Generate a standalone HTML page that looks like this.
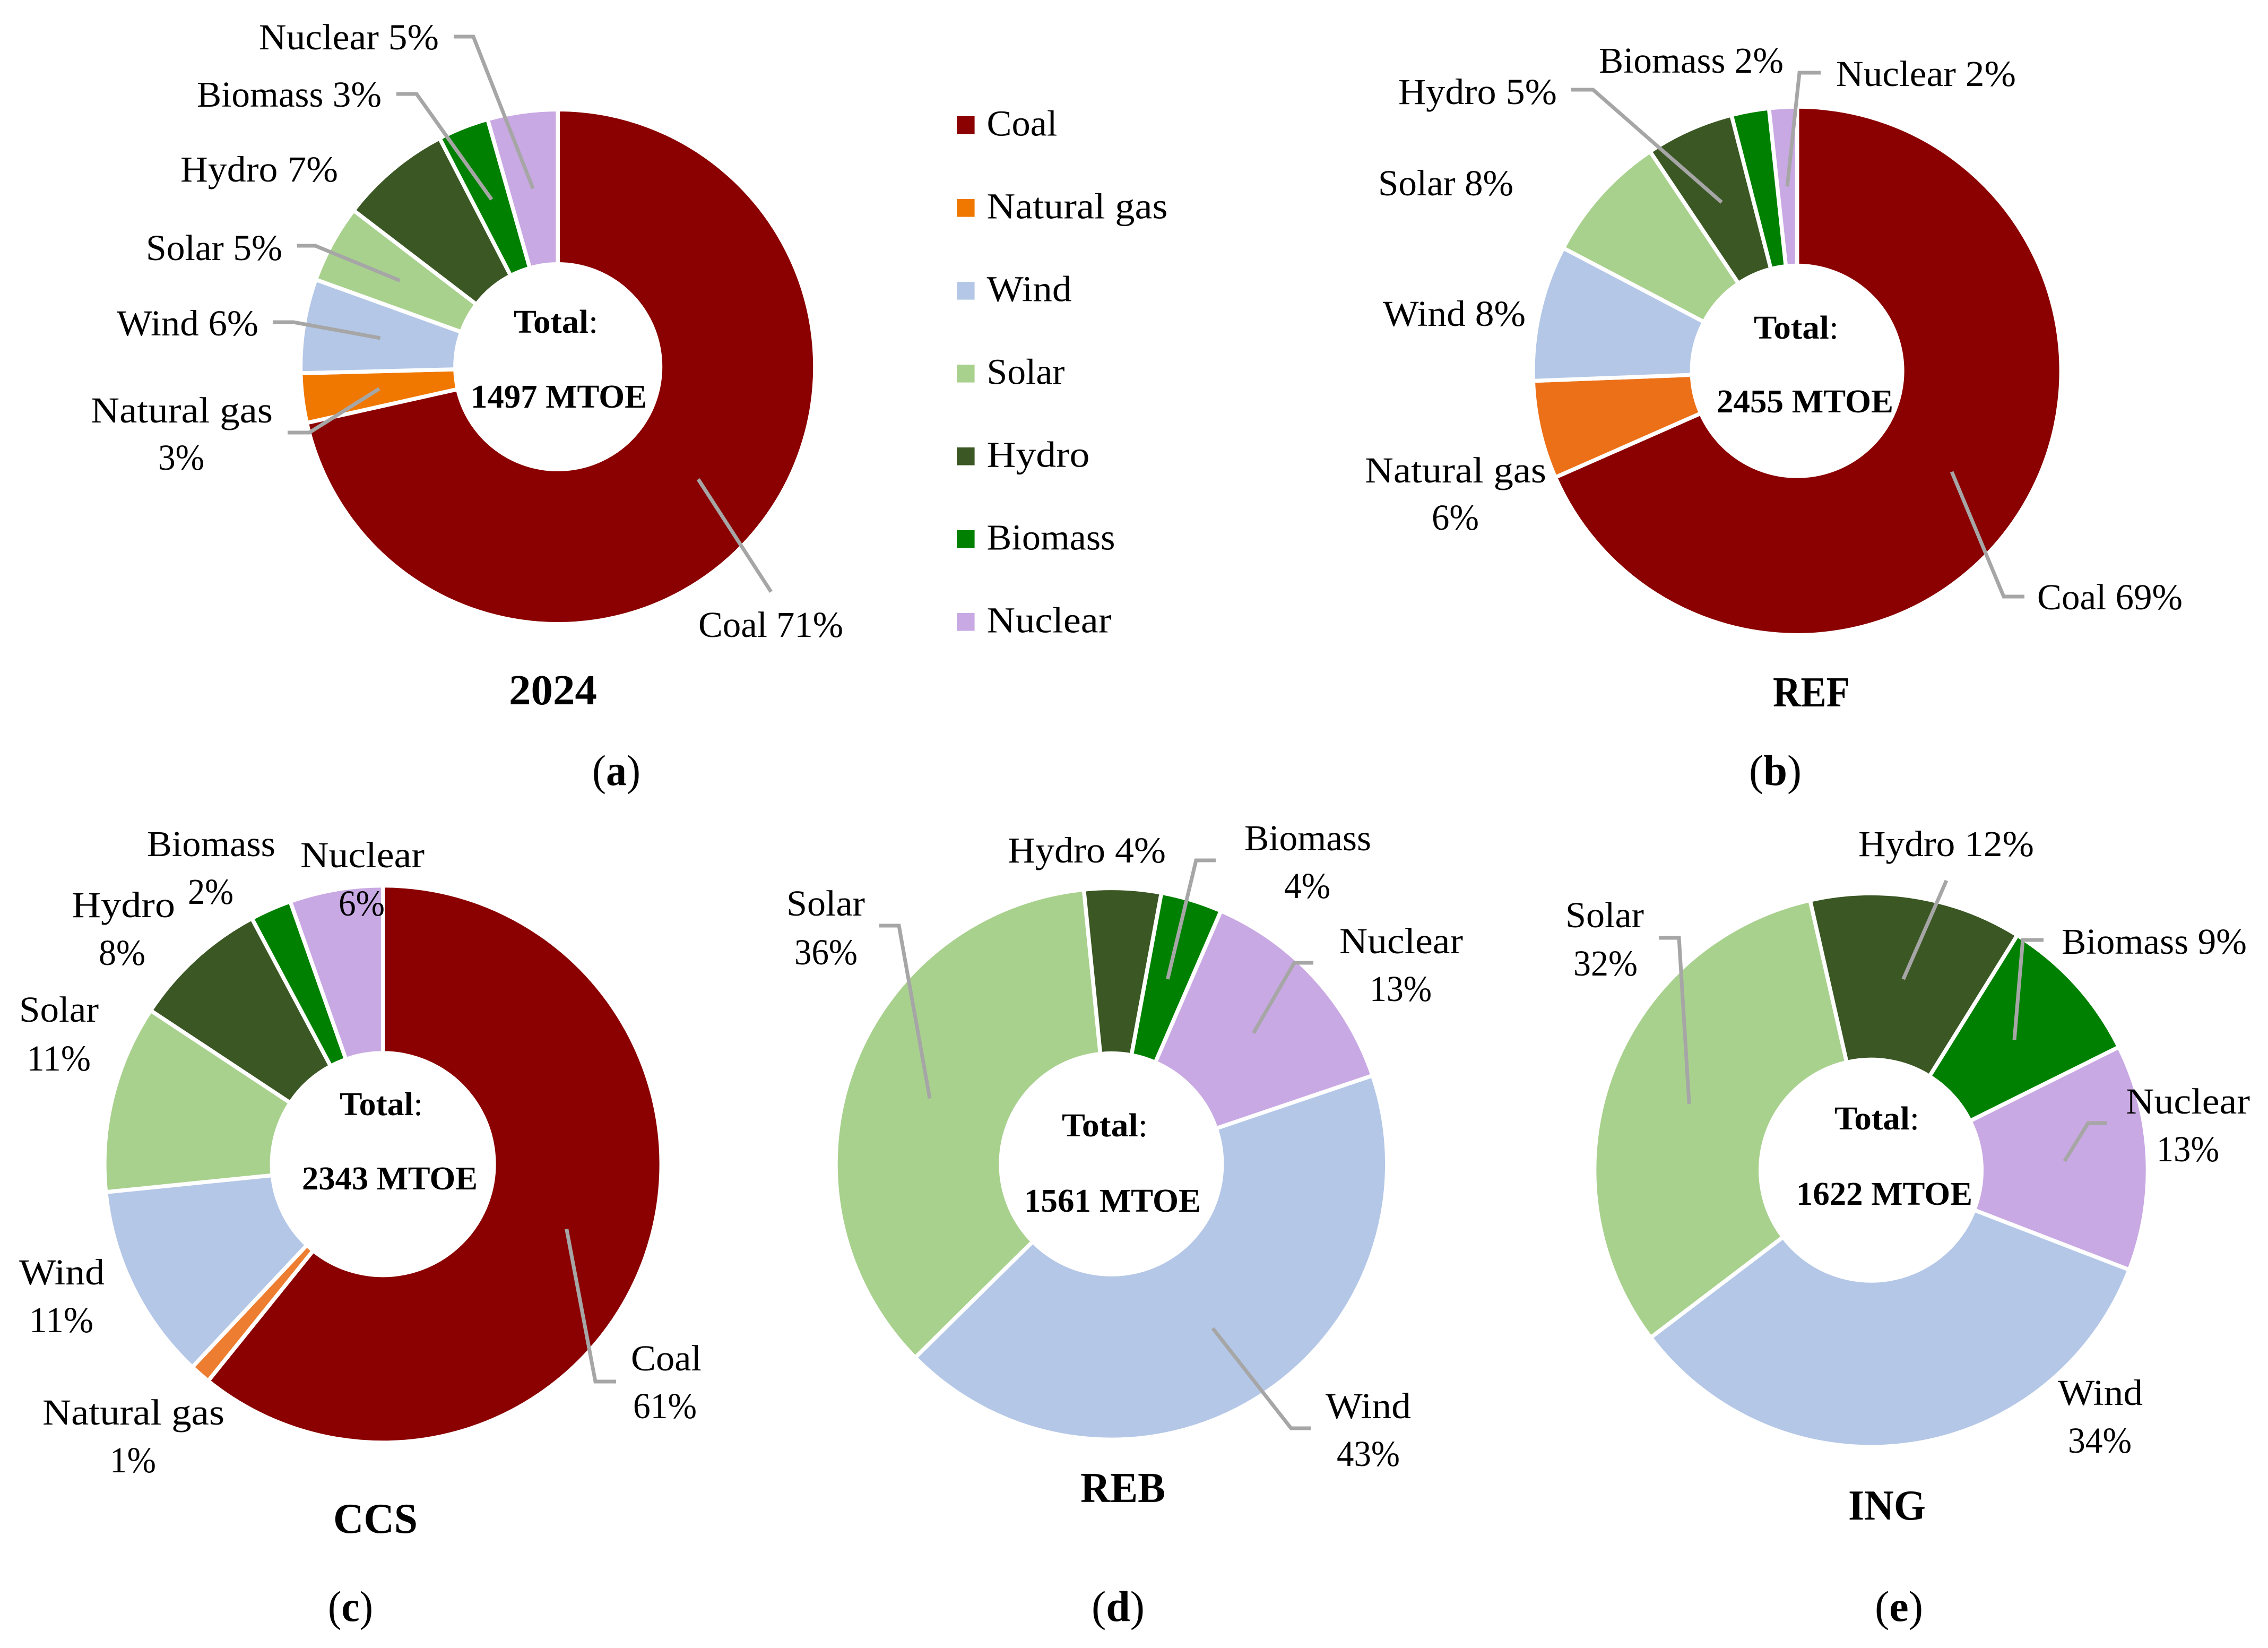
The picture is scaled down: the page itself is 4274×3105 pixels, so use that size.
<!DOCTYPE html>
<html lang="en">
<head>
<meta charset="utf-8">
<title>Energy mix by scenario</title>
<style>
html,body{margin:0;padding:0;background:#fff;}
svg{display:block;}
text{font-family:"Liberation Serif",serif;fill:#000;}
</style>
</head>
<body>
<svg id="figure" xmlns="http://www.w3.org/2000/svg" width="4274" height="3105" viewBox="0 0 4274 3105"></svg>
<script>
// ---------- data ----------
const categories = ["Coal", "Natural gas", "Wind", "Solar", "Hydro", "Biomass", "Nuclear"];
const values2024 = [71.5, 3.1, 5.9, 4.9, 7.0, 3.2, 4.4];
const valuesREF  = [68.4, 6.0, 8.3, 7.9, 5.4, 2.3, 1.7];
const valuesCCS  = [60.8, 1.2, 11.4, 10.9, 7.9, 2.4, 5.4];
const valuesREB  = [0, 0, 42.8, 35.8, 4.5, 3.6, 13.3];
const valuesING  = [0, 0, 33.8, 31.8, 12.4, 8.8, 13.2];
const printed2024 = [71, 3, 6, 5, 7, 3, 5];
const printedREF  = [69, 6, 8, 8, 5, 2, 2];
const printedCCS  = [61, 1, 11, 11, 8, 2, 6];
const printedREB  = [0, 0, 43, 36, 4, 4, 13];
const printedING  = [0, 0, 34, 32, 12, 9, 13];
const scenarioTitles = ["2024", "REF", "CCS", "REB", "ING"];
const scenarioTotals = [1497, 2455, 2343, 1561, 1622];
const panelLetters = ["a", "b", "c", "d", "e"];

// ---------- styling ----------
const sliceColors = ["#8B0000", "#F07800", "#B4C7E7", "#A9D18E", "#3B5724", "#008000", "#C9A9E3"];
const leaderColor = "#A6A6A6";

// ---------- layout of each panel (geometry, labels placed by hand as in the figure) ----------
// label entries: one box => "Name NN%" on a line; two boxes => name, then percent. Box = [left, right, baseline]
// leader entries: [outer end, elbow] — the inner end is computed from the slice's mid-angle
const panels = [
  { values: values2024, printed: printed2024, cx: 1051.2, cy: 691, R: 481, r: 197, start: 0,
    gas: "#F07800",
    labels: {
      "Coal": [[1316, 1589, 1200]],
      "Natural gas": [[171, 514, 796], [298, 385, 885]],
      "Wind": [[220, 487, 632]],
      "Solar": [[275, 532, 490]],
      "Hydro": [[340, 637, 342]],
      "Biomass": [[371, 719, 201]],
      "Nuclear": [[488, 827, 93]]
    },
    leaders: {
      "Coal": [[1453, 1115], [1453, 1115]],
      "Natural gas": [[542, 815], [583, 815]],
      "Wind": [[514, 607], [553, 607]],
      "Solar": [[560, 463], [594, 463]],
      "Biomass": [[747, 177], [785, 177]],
      "Nuclear": [[855, 69], [892, 69]]
    },
    total: [[968, 1127, 627], [887, 1219, 768]],
    title: [959, 1125, 1327],
    caption: [1116, 1207, 1479] },
  { values: valuesREF, printed: printedREF, cx: 3386.6, cy: 698.8, R: 494, r: 202, start: 0,
    gas: "#EC7018",
    labels: {
      "Coal": [[3839, 4113, 1148]],
      "Natural gas": [[2572, 2914, 909], [2698, 2787, 998]],
      "Wind": [[2606, 2875, 614]],
      "Solar": [[2597, 2852, 368]],
      "Hydro": [[2635, 2934, 196]],
      "Biomass": [[3013, 3361, 137]],
      "Nuclear": [[3460, 3799, 162]]
    },
    leaders: {
      "Coal": [[3815, 1124], [3776, 1124]],
      "Hydro": [[2961, 169], [3002, 169]],
      "Nuclear": [[3431, 137], [3391, 137]]
    },
    total: [[3305, 3465, 638], [3235, 3568, 777]],
    title: [3341, 3486, 1331],
    caption: [3296, 3395, 1479] },
  { values: valuesCCS, printed: printedCCS, cx: 721.6, cy: 2193.3, R: 521, r: 213, start: 0,
    gas: "#ED7D31",
    labels: {
      "Coal": [[1189, 1322, 2582], [1193, 1313, 2672]],
      "Natural gas": [[80, 423, 2684], [207, 294, 2774]],
      "Wind": [[36, 197, 2420], [55, 176, 2510]],
      "Solar": [[36, 186, 1925], [50, 171, 2017]],
      "Hydro": [[135, 330, 1728], [186, 274, 1818]],
      "Biomass": [[277, 519, 1613], [354, 440, 1703]],
      "Nuclear": [[566, 800, 1634], [638, 725, 1725]]
    },
    leaders: {
      "Coal": [[1161, 2603], [1122, 2603]]
    },
    total: [[640, 797, 2101], [569, 900, 2241]],
    title: [628, 787, 2888],
    caption: [618, 703, 3054] },
  { values: valuesREB, printed: printedREB, cx: 2094.4, cy: 2192.9, R: 515.7, r: 212, start: 71.3,
    gas: "#ED7D31",
    labels: {
      "Wind": [[2498, 2659, 2672], [2519, 2638, 2762]],
      "Solar": [[1482, 1630, 1725], [1497, 1616, 1817]],
      "Hydro": [[1899, 2197, 1625]],
      "Biomass": [[2345, 2584, 1602], [2420, 2507, 1692]],
      "Nuclear": [[2524, 2757, 1796], [2581, 2698, 1886]]
    },
    leaders: {
      "Wind": [[2470, 2691], [2433, 2691]],
      "Solar": [[1657, 1744], [1694, 1744]],
      "Biomass": [[2291, 1621], [2254, 1621]],
      "Nuclear": [[2475, 1814], [2439, 1814]]
    },
    total: [[2001, 2163, 2141], [1930, 2263, 2283]],
    title: [2036, 2196, 2830],
    caption: [2057, 2157, 3054] },
  { values: valuesING, printed: printedING, cx: 3526, cy: 2204.7, R: 517.7, r: 212, start: 111.1,
    gas: "#ED7D31",
    labels: {
      "Wind": [[3878, 4038, 2647], [3897, 4017, 2737]],
      "Solar": [[2950, 3098, 1747], [2965, 3086, 1838]],
      "Hydro": [[3502, 3833, 1613]],
      "Biomass": [[3885, 4234, 1797]],
      "Nuclear": [[4006, 4240, 2098], [4064, 4182, 2188]]
    },
    leaders: {
      "Solar": [[3126, 1767], [3164, 1767]],
      "Hydro": [[3668, 1659], [3668, 1659]],
      "Biomass": [[3851, 1771], [3812, 1771]],
      "Nuclear": [[3971, 2116], [3935, 2116]]
    },
    total: [[3457, 3617, 2128], [3385, 3717, 2270]],
    title: [3483, 3629, 2863],
    caption: [3533, 3624, 3054] }
];

// legend layout: text width for each category, following the category order
const legendTextWidths = [133, 341, 160, 147, 194, 242, 235];

const SVG_NS = "http://www.w3.org/2000/svg";
const figure = document.getElementById("figure");
const GAP = 7.5;        // white separator width between slices
const LEADER_W = 7;

function slug(s) { return s.toLowerCase().replace(/\s+/g, "-"); }

function polar(p, deg, rad) {
  const a = deg * Math.PI / 180;
  return [p.cx + rad * Math.sin(a), p.cy - rad * Math.cos(a)];
}

function annularPath(p, a0, a1) {
  const Ro = p.R + GAP / 2, Ri = p.r - GAP / 2;
  const large = (a1 - a0) > 180 ? 1 : 0;
  const s1 = polar(p, a0, Ro), e1 = polar(p, a1, Ro);
  const s2 = polar(p, a1, Ri), e2 = polar(p, a0, Ri);
  return "M" + s1[0] + " " + s1[1] +
    "A" + Ro + " " + Ro + " 0 " + large + " 1 " + e1[0] + " " + e1[1] +
    "L" + s2[0] + " " + s2[1] +
    "A" + Ri + " " + Ri + " 0 " + large + " 0 " + e2[0] + " " + e2[1] + "Z";
}

// Palatino-like widths: the Liberation glyphs are stretched to the measured width.
function addText(parent, box, size, bold, parts) {
  const t = document.createElementNS(SVG_NS, "text");
  t.setAttribute("x", (box[0] + box[1]) / 2);
  t.setAttribute("y", box[2]);
  t.setAttribute("text-anchor", "middle");
  t.setAttribute("font-size", size);
  if (bold) t.setAttribute("font-weight", "bold");
  t.setAttribute("textLength", box[1] - box[0]);
  t.setAttribute("lengthAdjust", "spacingAndGlyphs");
  parts.forEach(function (part) {
    const s = document.createElementNS(SVG_NS, "tspan");
    s.setAttribute("font-weight", part[1] ? "bold" : "normal");
    s.textContent = part[0];
    t.appendChild(s);
  });
  parent.appendChild(t);
  return t;
}

panels.forEach(function (p, pi) {
  const g = document.createElementNS(SVG_NS, "g");
  
  
  figure.appendChild(g);

  const sum = p.values.reduce(function (a, b) { return a + b; }, 0);
  const angle = function (v) { return v / sum * 360; };
  let cursor = p.start;
  const mids = {};

  // slices
  p.values.forEach(function (v, i) {
    if (v <= 0) return;
    const a0 = cursor, a1 = cursor + angle(v);
    cursor = a1;
    mids[categories[i]] = (a0 + a1) / 2;
    const path = document.createElementNS(SVG_NS, "path");
    path.setAttribute("d", annularPath(p, a0, a1));
    path.setAttribute("fill", i === 1 ? p.gas : sliceColors[i]);
    path.setAttribute("stroke", "#fff");
    path.setAttribute("stroke-width", GAP);
    path.setAttribute("stroke-linejoin", "miter");
    
    
    g.appendChild(path);
  });

  // leader lines: from slice mid-point at mid-ring out to the hand-placed label
  Object.keys(p.leaders).forEach(function (name) {
    const inner = polar(p, mids[name], (p.R + p.r) / 2);
    const outer = p.leaders[name][0], elbow = p.leaders[name][1];
    const line = document.createElementNS(SVG_NS, "polyline");
    line.setAttribute("points", outer.join(",") + " " + elbow.join(",") + " " + inner.join(","));
    line.setAttribute("fill", "none");
    line.setAttribute("stroke", leaderColor);
    line.setAttribute("stroke-width", LEADER_W);
    line.setAttribute("stroke-linejoin", "miter");
    
    
    g.appendChild(line);
  });

  // value labels
  categories.forEach(function (name, i) {
    const boxes = p.labels[name];
    if (!boxes) return;
    const pct = p.printed[i] + "%";
    if (boxes.length === 1) {
      const t = addText(g, boxes[0], 69, false, [[name + " " + pct, false]]);
      
      
    } else {
      const t1 = addText(g, boxes[0], 69, false, [[name, false]]);
      
      
      const t2 = addText(g, boxes[1], 69, false, [[pct, false]]);
      
      
    }
  });

  // centre totals
  const tt = addText(g, p.total[0], 62, true, [["Total", true], [":", false]]);
  
  
  const tv = addText(g, p.total[1], 62, true, [[scenarioTotals[pi] + " MTOE", true]]);
  
  

  // title and caption
  const title = addText(g, p.title, 80, true, [[scenarioTitles[pi], true]]);
  
  
  const cap = addText(g, p.caption, 82, false, [["(", false], [panelLetters[pi], true], [")", false]]);
  
  
});

// legend
const legend = document.createElementNS(SVG_NS, "g");


figure.appendChild(legend);
categories.forEach(function (name, i) {
  const y = 219 + i * 156;
  const rect = document.createElementNS(SVG_NS, "rect");
  rect.setAttribute("x", 1803);
  rect.setAttribute("y", y);
  rect.setAttribute("width", 33.6);
  rect.setAttribute("height", 33.6);
  rect.setAttribute("fill", sliceColors[i]);
  
  
  legend.appendChild(rect);
  const t = addText(legend, [1859.5, 1859.5 + legendTextWidths[i], y + 36.5], 69, false, [[name, false]]);
  
  
});
</script>
</body>
</html>
